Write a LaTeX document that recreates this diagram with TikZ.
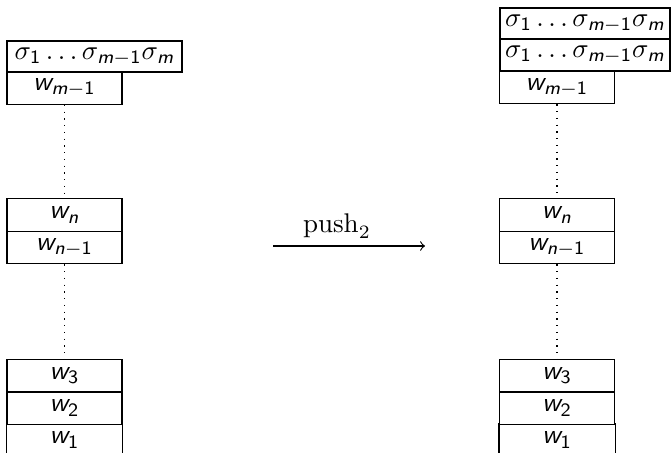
\documentclass[tikz,border=0pt]{standalone}
\usepackage{amsmath}
\newcommand\sfi[1]{\text{\sffamily\itshape #1}}
\newcommand\sfu[1]{\text{\sffamily #1}}
\begin{document}
\begin{tikzpicture}[x=0.37pt,y=-0.37pt]
\tikzset{
  cell/.style={draw, minimum width=115*0.37pt, minimum height=32.5*0.37pt, inner sep=0pt},
  opencell/.style={minimum width=115*0.37pt, minimum height=32.5*0.37pt, inner sep=0pt},
  sigcell/.style={draw, minimum width=175*0.37pt, minimum height=31*0.37pt, inner sep=0pt},
  dotline/.style={dotted, line width=0.5pt},
}
\newcommand\sigs{$\sigma_{\sfu{1}}\ldots\sigma_{\sfi{m}-\sfu{1}}\sigma_{\sfi{m}}$}
\useasboundingbox (0,0) rectangle (672,453);
% left stack
\node[sigcell] (lsig) at (94.5,56.5) {\sigs};
\node[cell] (lwm) at (64.5,88) {$\sfi{w}_{\sfi{m}-\sfu{1}}$};
\node[cell] (lwn) at (64.5,215) {$\sfi{w}_{\sfi{n}}$};
\node[cell] (lwn1) at (64.5,247.5) {$\sfi{w}_{\sfi{n}-\sfu{1}}$};
\node[cell] (lw3) at (64.5,376) {$\sfi{w}_{\sfu{3}}$};
\node[cell] (lw2) at (64.5,408) {$\sfi{w}_{\sfu{2}}$};
\node[opencell] (lw1) at (64.5,440) {$\sfi{w}_{\sfu{1}}$};
\draw (lw1.north west) -- (lw1.south west);
\draw (lw1.north east) -- (lw1.south east);
\draw[dotline] (lwm.south) -- (lwn.north);
\draw[dotline] (lwn1.south) -- (lw3.north);
% right stack
\node[sigcell, minimum width=170*0.37pt] (rsig1) at (585,23.5) {\sigs};
\node[sigcell, minimum width=170*0.37pt, minimum height=32*0.37pt] (rsig2) at (585,55) {\sigs};
\node[cell] (rwm) at (557,87.5) {$\sfi{w}_{\sfi{m}-\sfu{1}}$};
\node[cell] (rwn) at (557,215) {$\sfi{w}_{\sfi{n}}$};
\node[cell] (rwn1) at (557,247.5) {$\sfi{w}_{\sfi{n}-\sfu{1}}$};
\node[cell] (rw3) at (557,376) {$\sfi{w}_{\sfu{3}}$};
\node[cell] (rw2) at (557,408) {$\sfi{w}_{\sfu{2}}$};
\node[opencell] (rw1) at (557,440) {$\sfi{w}_{\sfu{1}}$};
\draw (rw1.north west) -- (rw1.south west);
\draw (rw1.north east) -- (rw1.south east);
\draw[dotline] (rwm.south) -- (rwn.north);
\draw[dotline] (rwn1.south) -- (rw3.north);
% arrow
\coordinate (a) at (273,246);
\coordinate (b) at (425,246);
\draw[->] (a) -- (b);
\node (lbl) at (337,226) {$\mathrm{push}_2$};
\end{tikzpicture}
\end{document}
